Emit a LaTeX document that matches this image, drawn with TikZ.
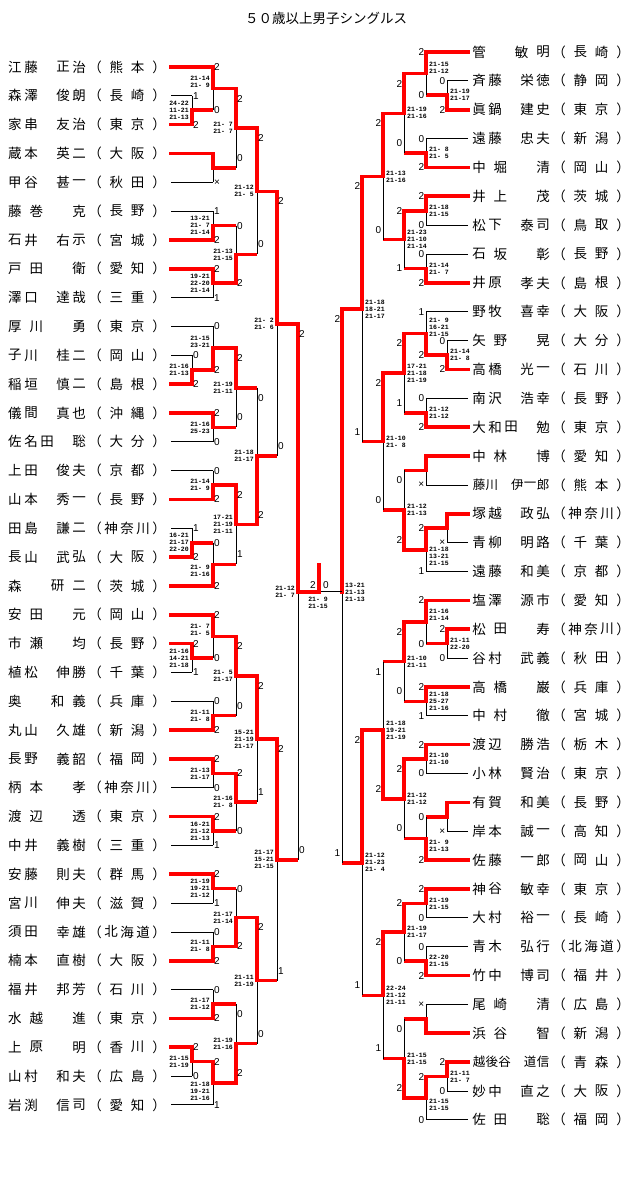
\documentclass[tikz,border=0pt]{standalone}
\usepackage{fontspec}
\newfontfamily\jpfont{Noto Sans CJK JP}
\newfontfamily\ptfont{Liberation Sans}
\newfontfamily\scfont{Liberation Mono}
\usetikzlibrary{positioning}

\def\nchars{5}
\newcommand\nmsize{\ifnum\nchars>5 \fontsize{12.5}{12.5}\selectfont\else\fontsize{13.5}{13.5}\selectfont\fi}

\tikzset{
  bline/.style={black, line width=0.8pt},
  rline/.style={red, line width=3.6pt, line cap=rect, shorten >=1.8pt},
  rnd/.style={font=\ptfont\fontsize{10}{10}\selectfont, inner sep=0pt},
  score/.style={font=\scfont\bfseries\fontsize{6.5}{7}\selectfont, align=left, inner sep=0pt},
  pname/.style={font=\jpfont\nmsize, inner sep=0pt},
  title/.style={font=\jpfont\fontsize{13.5}{13.5}\selectfont, inner sep=0pt},
}

% name field and prefecture field, each spread over four cells
\newcommand\names[4]{%
  \foreach \ch [count=\idx] in {#3} {\xdef\nchars{\idx}}
  \foreach \ch [count=\idx from 0] in {#3}
    \node[pname] at ({#1+7+\idx*64/(\nchars-1)},#2) {\ch};
  \foreach \ch [count=\idx] in {（,#4,）} {\xdef\nchars{\idx}}
  \foreach \ch [count=\idx from 0] in {（,#4,）}
    \node[pname] at ({#1+87+\idx*64/(\nchars-1)},#2) {\ch};
}
\newcommand\Lplayer[5]{%
  \draw[#3] (171,#1) -- (#2,#1);
  \names{8}{#1}{#4}{#5}}
\newcommand\Rplayer[5]{%
  \draw[#3] (468,#1) -- (#2,#1);
  \names{472}{#1}{#4}{#5}}

% col, next col, y top, y bottom, winner (1 top, 2 bottom), top pts, bottom pts, scores, score shift
\newcommand\Lmatch[9]{%
  \pgfmathsetmacro\midy{(#3+#4)/2}
  \pgfmathsetmacro\lbl{(#4-#3>60)?10:0}
  \draw[bline] (#1,#3) -- (#1,#4);
  \ifnum#5=1\relax \draw[rline] (#1,#3) -- (#1,\midy) -- (#2,\midy);
  \else \draw[rline] (#1,#4) -- (#1,\midy) -- (#2,\midy); \fi
  \node[rnd, anchor=west] at (#1+1,#3+\lbl) {#6};
  \node[rnd, anchor=west] at (#1+1,#4-\lbl) {#7};
  \node[score, anchor=east] at (#1-3,\midy+#9) {#8};
}
\newcommand\Rmatch[9]{%
  \pgfmathsetmacro\midy{(#3+#4)/2}
  \pgfmathsetmacro\lbl{(#4-#3>60)?10:0}
  \draw[bline] (#1,#3) -- (#1,#4);
  \ifnum#5=1\relax \draw[rline] (#1,#3) -- (#1,\midy) -- (#2,\midy);
  \else \draw[rline] (#1,#4) -- (#1,\midy) -- (#2,\midy); \fi
  \node[rnd, anchor=east] at (#1-1.5,#3+\lbl) {#6};
  \node[rnd, anchor=east] at (#1-1.5,#4-\lbl) {#7};
  \node[score, anchor=west] at (#1+3,\midy+#9) {#8};
}

\begin{document}
\begin{tikzpicture}[x=1pt,y=-1pt]
\useasboundingbox (0,0) rectangle (640,1201);

\node[title] (title) at (326,18) {５０歳以上男子シングルス};

\Lplayer{67.00}{213}{rline}{江,藤,　,正,治}{熊,本}
\Lplayer{95.83}{192}{bline}{森,澤,　,俊,朗}{長,崎}
\Lplayer{124.66}{192}{rline}{家,串,　,友,治}{東,京}
\Lplayer{153.49}{213}{rline}{蔵,本,　,英,二}{大,阪}
\Lplayer{182.32}{213}{bline}{甲,谷,　,甚,一}{秋,田}
\Lplayer{211.15}{213}{bline}{藤,巻,　,克}{長,野}
\Lplayer{239.98}{213}{rline}{石,井,　,右,示}{宮,城}
\Lplayer{268.81}{213}{rline}{戸,田,　,衛}{愛,知}
\Lplayer{297.64}{213}{bline}{澤,口,　,達,哉}{三,重}
\Lplayer{326.47}{213}{bline}{厚,川,　,勇}{東,京}
\Lplayer{355.30}{192}{bline}{子,川,　,桂,二}{岡,山}
\Lplayer{384.13}{192}{rline}{稲,垣,　,慎,二}{島,根}
\Lplayer{412.96}{213}{rline}{儀,間,　,真,也}{沖,縄}
\Lplayer{441.79}{213}{bline}{佐,名,田,　,聡}{大,分}
\Lplayer{470.62}{213}{bline}{上,田,　,俊,夫}{京,都}
\Lplayer{499.45}{213}{rline}{山,本,　,秀,一}{長,野}
\Lplayer{528.28}{192}{bline}{田,島,　,謙,二}{神,奈,川}
\Lplayer{557.11}{192}{rline}{長,山,　,武,弘}{大,阪}
\Lplayer{585.94}{213}{rline}{森,　,研,二}{茨,城}
\Lplayer{614.77}{213}{rline}{安,田,　,元}{岡,山}
\Lplayer{643.60}{192}{rline}{市,瀬,　,均}{長,野}
\Lplayer{672.43}{192}{bline}{植,松,　,伸,勝}{千,葉}
\Lplayer{701.26}{213}{bline}{奥,　,和,義}{兵,庫}
\Lplayer{730.09}{213}{rline}{丸,山,　,久,雄}{新,潟}
\Lplayer{758.92}{213}{rline}{長,野,　,義,韶}{福,岡}
\Lplayer{787.75}{213}{bline}{柄,本,　,孝}{神,奈,川}
\Lplayer{816.58}{213}{rline}{渡,辺,　,透}{東,京}
\Lplayer{845.41}{213}{bline}{中,井,　,義,樹}{三,重}
\Lplayer{874.24}{213}{rline}{安,藤,　,則,夫}{群,馬}
\Lplayer{903.07}{213}{bline}{宮,川,　,伸,夫}{滋,賀}
\Lplayer{931.90}{213}{bline}{須,田,　,幸,雄}{北,海,道}
\Lplayer{960.73}{213}{rline}{楠,本,　,直,樹}{大,阪}
\Lplayer{989.56}{213}{bline}{福,井,　,邦,芳}{石,川}
\Lplayer{1018.39}{213}{rline}{水,越,　,進}{東,京}
\Lplayer{1047.22}{192}{rline}{上,原,　,明}{香,川}
\Lplayer{1076.05}{192}{bline}{山,村,　,和,夫}{広,島}
\Lplayer{1104.88}{213}{bline}{岩,渕,　,信,司}{愛,知}

\Rplayer{52.00}{426}{rline}{管,　,敏,明}{長,崎}
\Rplayer{80.86}{447}{bline}{斉,藤,　,栄,徳}{静,岡}
\Rplayer{109.72}{447}{rline}{眞,鍋,　,建,史}{東,京}
\Rplayer{138.58}{426}{bline}{遠,藤,　,忠,夫}{新,潟}
\Rplayer{167.44}{426}{rline}{中,堀,　,清}{岡,山}
\Rplayer{196.30}{426}{rline}{井,上,　,茂}{茨,城}
\Rplayer{225.16}{426}{bline}{松,下,　,泰,司}{鳥,取}
\Rplayer{254.02}{426}{bline}{石,坂,　,彰}{長,野}
\Rplayer{282.88}{426}{rline}{井,原,　,孝,夫}{島,根}
\Rplayer{311.74}{426}{bline}{野,牧,　,喜,幸}{大,阪}
\Rplayer{340.60}{447}{bline}{矢,野,　,晃}{大,分}
\Rplayer{369.46}{447}{rline}{高,橋,　,光,一}{石,川}
\Rplayer{398.32}{426}{bline}{南,沢,　,浩,幸}{長,野}
\Rplayer{427.18}{426}{rline}{大,和,田,　,勉}{東,京}
\Rplayer{456.04}{426}{rline}{中,林,　,博}{愛,知}
\Rplayer{484.90}{426}{bline}{藤,川,　,伊,一,郎}{熊,本}
\Rplayer{513.76}{447}{rline}{塚,越,　,政,弘}{神,奈,川}
\Rplayer{542.62}{447}{bline}{青,柳,　,明,路}{千,葉}
\Rplayer{571.48}{426}{bline}{遠,藤,　,和,美}{京,都}
\Rplayer{600.34}{426}{rline}{塩,澤,　,源,市}{愛,知}
\Rplayer{629.20}{447}{rline}{松,田,　,寿}{神,奈,川}
\Rplayer{658.06}{447}{bline}{谷,村,　,武,義}{秋,田}
\Rplayer{686.92}{426}{rline}{高,橋,　,巌}{兵,庫}
\Rplayer{715.78}{426}{bline}{中,村,　,徹}{宮,城}
\Rplayer{744.64}{426}{rline}{渡,辺,　,勝,浩}{栃,木}
\Rplayer{773.50}{426}{bline}{小,林,　,賢,治}{東,京}
\Rplayer{802.36}{447}{rline}{有,賀,　,和,美}{長,野}
\Rplayer{831.22}{447}{bline}{岸,本,　,誠,一}{高,知}
\Rplayer{860.08}{426}{rline}{佐,藤,　,一,郎}{岡,山}
\Rplayer{888.94}{426}{rline}{神,谷,　,敏,幸}{東,京}
\Rplayer{917.80}{426}{bline}{大,村,　,裕,一}{長,崎}
\Rplayer{946.66}{426}{bline}{青,木,　,弘,行}{北,海,道}
\Rplayer{975.52}{426}{rline}{竹,中,　,博,司}{福,井}
\Rplayer{1004.38}{426}{bline}{尾,崎,　,清}{広,島}
\Rplayer{1033.24}{426}{rline}{浜,谷,　,智}{新,潟}
\Rplayer{1062.10}{447}{rline}{越,後,谷,　,道,信}{青,森}
\Rplayer{1090.96}{447}{bline}{妙,中,　,直,之}{大,阪}
\Rplayer{1119.82}{426}{bline}{佐,田,　,聡}{福,岡}

\Lmatch{192}{213}{95.83}{124.66}{2}{1}{2}{24-22\\11-21\\21-13}{0}
\Lmatch{213}{236}{67.00}{110.25}{1}{2}{0}{21-14\\21- 9}{-7}
\Lmatch{213}{236}{153.49}{182.32}{1}{}{×}{}{0}
\Lmatch{236}{257}{88.62}{167.91}{1}{2}{0}{21- 7\\21- 7}{0}
\Lmatch{213}{236}{211.15}{239.98}{2}{1}{2}{13-21\\21- 7\\21-14}{0}
\Lmatch{213}{236}{268.81}{297.64}{1}{2}{1}{19-21\\22-20\\21-14}{0}
\Lmatch{236}{257}{225.57}{283.23}{2}{0}{2}{21-13\\21-15}{0}
\Lmatch{257}{277}{128.27}{254.40}{1}{2}{0}{21-12\\21- 5}{0}
\Lmatch{192}{213}{355.30}{384.13}{2}{0}{2}{21-16\\21-13}{0}
\Lmatch{213}{236}{326.47}{369.72}{2}{0}{2}{21-15\\23-21}{-6}
\Lmatch{213}{236}{412.96}{441.79}{1}{2}{0}{21-16\\25-23}{0}
\Lmatch{236}{257}{348.10}{427.38}{1}{2}{0}{21-19\\21-11}{0}
\Lmatch{213}{236}{470.62}{499.45}{2}{0}{2}{21-14\\21- 9}{0}
\Lmatch{192}{213}{528.28}{557.11}{2}{1}{2}{16-21\\21-17\\22-20}{0}
\Lmatch{213}{236}{542.70}{585.94}{2}{0}{2}{21- 9\\21-16}{7}
\Lmatch{236}{257}{485.04}{564.32}{1}{2}{1}{17-21\\21-19\\21-11}{0}
\Lmatch{257}{277}{387.74}{524.68}{2}{0}{2}{21-18\\21-17}{0}
\Lmatch{277}{298}{191.34}{456.21}{1}{2}{0}{21- 2\\21- 6}{0}
\Lmatch{192}{213}{643.60}{672.43}{1}{2}{1}{21-16\\14-21\\21-18}{0}
\Lmatch{213}{236}{614.77}{658.02}{1}{2}{0}{21- 7\\21- 5}{-7}
\Lmatch{213}{236}{701.26}{730.09}{2}{0}{2}{21-11\\21- 8}{0}
\Lmatch{236}{257}{636.40}{715.68}{1}{2}{0}{21- 5\\21-17}{0}
\Lmatch{213}{236}{758.92}{787.75}{1}{2}{0}{21-13\\21-17}{0}
\Lmatch{213}{236}{816.58}{845.41}{1}{2}{1}{16-21\\21-12\\21-13}{0}
\Lmatch{236}{257}{773.34}{831.00}{1}{2}{0}{21-16\\21- 8}{0}
\Lmatch{257}{277}{676.04}{802.17}{1}{2}{1}{15-21\\21-19\\21-17}{0}
\Lmatch{213}{236}{874.24}{903.07}{1}{2}{1}{21-19\\19-21\\21-12}{0}
\Lmatch{213}{236}{931.90}{960.73}{2}{0}{2}{21-11\\21- 8}{0}
\Lmatch{236}{257}{888.66}{946.32}{2}{0}{2}{21-17\\21-14}{0}
\Lmatch{213}{236}{989.56}{1018.39}{2}{0}{2}{21-17\\21-12}{0}
\Lmatch{192}{213}{1047.22}{1076.05}{1}{2}{0}{21-15\\21-19}{0}
\Lmatch{213}{236}{1061.64}{1104.88}{1}{2}{1}{21-18\\19-21\\21-16}{8}
\Lmatch{236}{257}{1003.98}{1083.26}{2}{0}{2}{21-19\\21-16}{0}
\Lmatch{257}{277}{917.49}{1043.62}{1}{2}{0}{21-11\\21-19}{0}
\Lmatch{277}{298}{739.11}{980.56}{1}{2}{1}{21-17\\15-21\\21-15}{0}
\Lmatch{298}{319}{323.78}{859.84}{1}{2}{0}{21-12\\21- 7}{0}

\Rmatch{447}{426}{80.86}{109.72}{2}{0}{2}{21-19\\21-17}{0}
\Rmatch{426}{404}{52.00}{95.29}{1}{2}{0}{21-15\\21-12}{-6}
\Rmatch{426}{404}{138.58}{167.44}{2}{0}{2}{21- 8\\21- 5}{0}
\Rmatch{404}{383}{73.65}{153.01}{1}{2}{0}{21-19\\21-16}{0}
\Rmatch{426}{404}{196.30}{225.16}{1}{2}{0}{21-18\\21-15}{0}
\Rmatch{426}{404}{254.02}{282.88}{2}{0}{2}{21-14\\21- 7}{0}
\Rmatch{404}{383}{210.73}{268.45}{1}{2}{1}{21-23\\21-10\\21-14}{0}
\Rmatch{383}{362}{113.33}{239.59}{1}{2}{0}{21-13\\21-16}{0}
\Rmatch{447}{426}{340.60}{369.46}{2}{0}{2}{21-14\\21- 8}{0}
\Rmatch{426}{404}{311.74}{355.03}{2}{1}{2}{21- 9\\16-21\\21-15}{-6}
\Rmatch{426}{404}{398.32}{427.18}{2}{0}{2}{21-12\\21-12}{0}
\Rmatch{404}{383}{333.39}{412.75}{1}{2}{1}{17-21\\21-18\\21-19}{0}
\Rmatch{426}{404}{456.04}{484.90}{1}{}{×}{}{0}
\Rmatch{447}{426}{513.76}{542.62}{1}{}{×}{}{0}
\Rmatch{426}{404}{528.19}{571.48}{1}{2}{1}{21-18\\13-21\\21-15}{7}
\Rmatch{404}{383}{470.47}{549.84}{2}{0}{2}{21-12\\21-13}{0}
\Rmatch{383}{362}{373.07}{510.16}{1}{2}{0}{21-10\\21- 8}{0}
\Rmatch{362}{342}{176.46}{441.62}{1}{2}{1}{21-18\\18-21\\21-17}{0}
\Rmatch{447}{426}{629.20}{658.06}{1}{2}{0}{21-11\\22-20}{0}
\Rmatch{426}{404}{600.34}{643.63}{1}{2}{0}{21-16\\21-14}{-7}
\Rmatch{426}{404}{686.92}{715.78}{1}{2}{1}{21-18\\25-27\\21-16}{0}
\Rmatch{404}{383}{621.99}{701.35}{1}{2}{0}{21-10\\21-11}{0}
\Rmatch{426}{404}{744.64}{773.50}{1}{2}{0}{21-10\\21-10}{0}
\Rmatch{447}{426}{802.36}{831.22}{1}{}{×}{}{0}
\Rmatch{426}{404}{816.79}{860.08}{2}{0}{2}{21- 9\\21-13}{7}
\Rmatch{404}{383}{759.07}{838.44}{1}{2}{0}{21-12\\21-12}{0}
\Rmatch{383}{362}{661.67}{798.76}{2}{1}{2}{21-18\\19-21\\21-19}{0}
\Rmatch{426}{404}{888.94}{917.80}{1}{2}{0}{21-19\\21-15}{0}
\Rmatch{426}{404}{946.66}{975.52}{2}{0}{2}{22-20\\21-15}{0}
\Rmatch{404}{383}{903.37}{961.09}{1}{2}{0}{21-19\\21-17}{0}
\Rmatch{426}{404}{1004.38}{1033.24}{2}{×}{}{}{0}
\Rmatch{447}{426}{1062.10}{1090.96}{1}{2}{0}{21-11\\21- 7}{0}
\Rmatch{426}{404}{1076.53}{1119.82}{1}{2}{0}{21-15\\21-15}{7}
\Rmatch{404}{383}{1018.81}{1098.18}{2}{0}{2}{21-15\\21-15}{0}
\Rmatch{383}{362}{932.23}{1058.50}{1}{2}{1}{22-24\\21-12\\21-11}{0}
\Rmatch{362}{342}{730.22}{995.37}{1}{2}{1}{21-12\\21-23\\21- 4}{0}

\draw[bline] (342,309.04) -- (342,862.80);
\draw[rline] (342,309.04) -- (342,593.6);
\node[rnd, anchor=east] at (340.5,319) {2};
\node[rnd, anchor=east] at (340.5,853) {1};
\node[score, anchor=west] at (345,592) {13-21\\21-13\\21-13};

\draw[bline] (319,591.81) -- (342,591.81);
\draw[rline] (319,591.81) -- (319,563);
\node[rnd] at (313,585) {2};
\node[rnd] at (326,585) {0};
\node[score] at (318,603) {21- 9\\21-15};

\end{tikzpicture}
\end{document}
